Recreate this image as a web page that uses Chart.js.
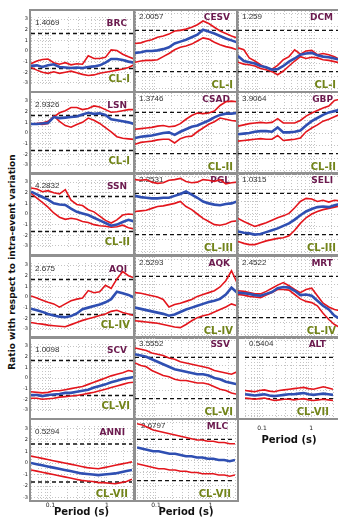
<!DOCTYPE html>
<html lang="en">
<head>
<meta charset="UTF-8">
<title>Ratio with respect to intra-event variation</title>
<script src="https://cdn.jsdelivr.net/npm/chart.js"></script>
<style>
  body { margin: 0; background: #fff; width: 338px; height: 517px; position: relative; overflow: hidden; }
  canvas { position: absolute; }
  .frame { position: absolute; border: 2px solid #909090; pointer-events: none; }
  .ylab {
    position: absolute; left: 12px; top: 262px;
    transform: translate(-50%, -50%) rotate(-90deg);
    white-space: nowrap; font: bold 9px 'DejaVu Sans', sans-serif; color: #111;
  }
</style>
</head>
<body>
<div class="ylab">Ratio with respect to intra-event variation</div>
<script>
const periods = [0.045, 0.057, 0.071, 0.089, 0.112, 0.141, 0.178, 0.224, 0.282, 0.355, 0.447, 0.562, 0.708, 0.891, 1.12, 1.41, 1.78, 2.24, 2.8];
const xTickLabels = ['0.1', '1'];
const yTicks = [-3, -2, -1, 0, 1, 2, 3];
const limits = [1.645, -1.645];

const stations = ['BRC', 'CESV', 'DCM', 'LSN', 'CSAD', 'GBP', 'SSN', 'PGL', 'SELI', 'AQI', 'AQK', 'MRT', 'SCV', 'SSV', 'ALT', 'ANNI', 'MLC'];
const values = ['1.4069', '2.0057', '1.259', '2.9326', '1.3746', '3.9064', '4.2832', '2.2531', '1.0315', '2.675', '2.5293', '2.4522', '1.0098', '3.5552', '0.5404', '0.5294', '2.6797'];
const classes = ['CL-I', 'CL-I', 'CL-I', 'CL-I', 'CL-II', 'CL-II', 'CL-II', 'CL-III', 'CL-III', 'CL-IV', 'CL-IV', 'CL-IV', 'CL-VI', 'CL-VI', 'CL-VII', 'CL-VII', 'CL-VII'];

// upper red / mean blue / lower red
const brcHi = [-1.2, -0.95, -0.8, -0.75, -1.1, -1.25, -1.1, -1.3, -1.2, -1.25, -0.45, -0.7, -0.7, -0.6, 0.1, 0.05, -0.3, -0.55, -0.75];
const brcMu = [-1.4, -1.35, -1.5, -1.35, -1.25, -1.5, -1.55, -1.6, -1.55, -1.6, -1.5, -1.45, -1.35, -1.1, -0.75, -0.75, -0.85, -1.0, -1.1];
const brcLo = [-1.55, -1.8, -2.0, -2.1, -1.95, -2.1, -2.0, -1.9, -2.05, -2.2, -2.3, -2.25, -2.1, -2.0, -1.9, -1.8, -1.7, -1.55, -1.3];

const cesvHi = [0.6, 0.65, 0.8, 0.9, 1.1, 1.2, 1.35, 1.6, 1.65, 1.75, 1.9, 2.1, 2.4, 2.2, 1.9, 1.6, 1.4, 1.2, 1.05];
const cesvMu = [-0.15, -0.1, 0.0, 0.0, 0.05, 0.15, 0.3, 0.6, 0.75, 0.9, 1.1, 1.3, 1.7, 1.55, 1.4, 1.2, 1.0, 0.85, 0.7];
const cesvLo = [-0.9, -0.8, -0.75, -0.75, -0.7, -0.45, -0.2, 0.1, 0.3, 0.4, 0.55, 0.8, 1.05, 0.95, 0.7, 0.5, 0.35, 0.25, 0.1];

const dcmHi = [0.25, 0.1, -0.55, -0.8, -1.1, -1.35, -1.45, -1.15, -0.7, -0.45, 0.1, -0.25, 0.0, 0.05, -0.3, -0.2, -0.3, -0.45, -0.7];
const dcmMu = [-0.4, -0.8, -0.9, -1.0, -1.2, -1.3, -1.5, -1.45, -1.2, -0.85, -0.6, -0.3, -0.2, -0.15, -0.35, -0.45, -0.5, -0.6, -0.7];
const dcmLo = [-0.9, -1.05, -1.1, -1.2, -1.4, -1.5, -1.65, -1.9, -1.6, -1.2, -0.8, -0.45, -0.6, -0.5, -0.55, -0.7, -0.75, -0.85, -0.95];

const lsnHi = [0.85, 0.9, 0.95, 1.1, 1.5, 1.9, 2.1, 2.4, 2.4, 2.2, 2.3, 2.55, 2.45, 2.2, 1.95, 2.0, 2.1, 2.2, 2.2];
const lsnMu = [0.85, 0.85, 0.9, 0.95, 1.5, 1.4, 1.45, 1.5, 1.55, 1.75, 1.9, 1.8, 1.85, 1.7, 1.3, 1.2, 1.1, 1.0, 0.85];
const lsnLo = [0.85, 0.85, 0.8, 0.9, 1.6, 1.1, 0.7, 0.55, 0.8, 1.0, 1.4, 1.2, 0.9, 0.5, 0.1, -0.35, -0.5, -0.55, -0.6];

const csadHi = [0.3, 0.35, 0.4, 0.45, 0.55, 0.6, 0.5, 0.55, 0.75, 1.1, 1.4, 1.6, 1.55, 1.6, 1.75, 2.2, 2.5, 2.55, 2.5];
const csadMu = [-0.4, -0.3, -0.25, -0.2, -0.1, 0.0, 0.05, -0.15, 0.1, 0.3, 0.5, 0.6, 0.8, 1.0, 1.25, 1.45, 1.55, 1.55, 1.6];
const csadLo = [-0.9, -0.75, -0.7, -0.65, -0.55, -0.5, -0.5, -0.8, -0.45, -0.3, -0.25, 0.1, 0.4, 0.7, 0.9, 1.2, 1.1, 1.0, 0.95];

const gbpHi = [0.55, 0.65, 0.75, 0.8, 0.85, 0.8, 0.85, 1.15, 0.8, 0.8, 0.8, 1.0, 1.35, 1.6, 1.8, 2.0, 2.15, 2.6, 2.7];
const gbpMu = [-0.1, -0.05, 0.0, 0.1, 0.15, 0.15, 0.1, 0.45, 0.05, 0.05, 0.1, 0.2, 0.6, 0.95, 1.2, 1.45, 1.65, 1.75, 1.85];
const gbpLo = [-0.65, -0.6, -0.55, -0.5, -0.45, -0.5, -0.5, -0.2, -0.6, -0.55, -0.5, -0.4, 0.1, 0.4, 0.65, 0.95, 1.1, 1.3, 1.5];

const ssnHi = [2.45, 2.35, 2.1, 2.2, 2.0, 1.9, 2.3, 1.3, 0.9, 0.8, 0.4, 0.2, -0.2, -0.6, -0.85, -0.55, -0.1, 0.0, -0.05];
const ssnMu = [2.1, 1.85, 1.6, 1.35, 1.0, 0.9, 0.85, 0.5, 0.2, 0.05, -0.1, -0.35, -0.6, -0.85, -1.1, -1.0, -0.75, -0.55, -0.7];
const ssnLo = [1.95, 1.5, 1.1, 0.65, 0.1, -0.3, -0.5, -0.4, -0.5, -0.7, -0.8, -1.0, -1.1, -1.15, -1.25, -1.2, -1.05, -1.3, -1.4];

const pglHi = [2.75, 2.7, 2.75, 2.55, 2.45, 2.5, 2.7, 2.75, 2.85, 2.6, 2.5, 2.55, 2.75, 2.7, 2.6, 2.75, 2.4, 2.5, 2.55];
const pglMu = [1.45, 1.35, 1.3, 1.25, 1.25, 1.3, 1.3, 1.45, 1.6, 1.8, 1.55, 1.3, 1.0, 0.85, 0.75, 0.7, 0.8, 0.85, 1.0];
const pglLo = [0.2, 0.25, 0.3, 0.45, 0.6, 0.65, 0.75, 0.85, 1.0, 0.6, 0.35, 0.0, -0.35, -0.6, -0.85, -0.9, -0.8, -0.6, -0.55];

const seliHi = [-0.35, -0.6, -0.8, -1.0, -0.85, -0.7, -0.5, -0.3, -0.15, 0.05, 0.5, 1.0, 1.25, 1.2, 1.0, 1.1, 0.95, 1.1, 1.05];
const seliMu = [-1.4, -1.5, -1.55, -1.65, -1.6, -1.45, -1.3, -1.15, -0.95, -0.75, -0.45, -0.1, 0.2, 0.4, 0.55, 0.6, 0.55, 0.7, 0.8];
const seliLo = [-2.2, -2.35, -2.45, -2.45, -2.3, -2.15, -2.05, -1.95, -1.9, -1.75, -1.3, -0.75, -0.3, 0.0, 0.2, 0.35, 0.45, 0.55, 0.65];

const aqiHi = [0.1, -0.1, -0.3, -0.5, -0.65, -0.95, -0.65, -0.35, -0.2, -0.1, 0.6, 0.4, 0.5, 1.1, 0.8, 1.7, 2.4, 2.0, 1.8];
const aqiMu = [-1.1, -1.25, -1.4, -1.6, -1.75, -1.85, -1.9, -1.8, -1.55, -1.15, -1.0, -0.85, -0.7, -0.5, -0.2, 0.5, 0.35, 0.2, -0.05];
const aqiLo = [-2.4, -2.5, -2.55, -2.65, -2.7, -2.75, -2.8, -2.6, -2.4, -2.2, -2.05, -1.9, -1.75, -1.6, -1.35, -1.25, -1.45, -1.6, -1.75];

const aqkHi = [0.35, 0.3, 0.2, 0.1, 0.0, -0.2, -0.8, -0.6, -0.5, -0.35, -0.2, 0.05, 0.2, 0.35, 0.5, 0.8, 1.3, 2.1, 1.15];
const aqkMu = [-0.85, -0.95, -1.05, -1.15, -1.25, -1.35, -1.5, -1.4, -1.2, -1.0, -0.85, -0.7, -0.55, -0.4, -0.3, -0.15, 0.2, 0.75, 0.35];
const aqkLo = [-1.9, -1.95, -2.0, -2.05, -2.1, -2.2, -2.3, -2.4, -2.45, -2.2, -1.9, -1.65, -1.5, -1.4, -1.2, -1.0, -0.8, -0.55, -0.7];

const mrtHi = [0.5, 0.45, 0.35, 0.25, 0.25, 0.45, 0.7, 0.95, 1.15, 0.9, 0.6, 0.35, 0.6, 0.7, 0.1, -0.5, -0.8, -1.0, -1.1];
const mrtMu = [0.35, 0.3, 0.25, 0.15, 0.1, 0.25, 0.4, 0.7, 0.8, 0.75, 0.5, 0.15, 0.2, 0.1, -0.3, -0.7, -1.0, -1.5, -1.75];
const mrtLo = [0.2, 0.15, 0.05, 0.0, -0.05, 0.15, 0.35, 0.6, 0.6, 0.55, 0.2, -0.15, -0.35, -0.45, -0.7, -1.3, -1.8, -2.2, -2.45];

const scvHi = [-1.3, -1.35, -1.4, -1.35, -1.2, -1.2, -1.1, -1.0, -0.9, -0.8, -0.6, -0.4, -0.2, 0.0, 0.2, 0.35, 0.5, 0.7, 0.6];
const scvMu = [-1.6, -1.6, -1.7, -1.6, -1.55, -1.5, -1.4, -1.4, -1.3, -1.2, -1.1, -0.9, -0.75, -0.6, -0.4, -0.25, -0.1, 0.0, 0.1];
const scvLo = [-1.9, -1.9, -2.0, -1.95, -1.9, -1.8, -1.75, -1.7, -1.65, -1.55, -1.45, -1.35, -1.2, -1.05, -0.9, -0.75, -0.6, -0.45, -0.4];

const ssvHi = [2.4, 2.3, 2.2, 2.0, 1.9, 1.8, 1.6, 1.5, 1.3, 1.2, 1.1, 1.0, 0.9, 0.8, 0.6, 0.5, 0.4, 0.3, 0.5];
const ssvMu = [1.9, 1.8, 1.7, 1.5, 1.3, 1.1, 0.9, 0.7, 0.6, 0.5, 0.4, 0.3, 0.3, 0.2, 0.0, -0.1, -0.3, -0.4, -0.5];
const ssvLo = [1.2, 1.0, 0.9, 0.6, 0.4, 0.2, 0.1, -0.1, -0.2, -0.2, -0.3, -0.4, -0.4, -0.5, -0.7, -0.9, -1.0, -1.2, -1.3];

const altHi = [-1.0, -1.05, -1.1, -1.0, -0.95, -1.05, -1.1, -1.0, -0.95, -0.9, -0.85, -0.8, -0.75, -0.85, -0.9, -0.8, -0.7, -0.8, -0.9];
const altMu = [-1.3, -1.35, -1.4, -1.35, -1.3, -1.4, -1.45, -1.4, -1.35, -1.3, -1.3, -1.25, -1.2, -1.3, -1.35, -1.3, -1.25, -1.3, -1.35];
const altLo = [-1.6, -1.65, -1.7, -1.65, -1.6, -1.7, -1.8, -1.75, -1.7, -1.7, -1.75, -1.7, -1.65, -1.75, -1.8, -1.75, -1.7, -1.75, -1.8];

const anniHi = [0.6, 0.5, 0.4, 0.3, 0.2, 0.1, 0.0, -0.1, -0.2, -0.3, -0.4, -0.45, -0.5, -0.4, -0.3, -0.2, -0.1, 0.0, 0.1];
const anniMu = [0.0, -0.1, -0.2, -0.3, -0.4, -0.5, -0.6, -0.7, -0.8, -0.9, -0.95, -1.0, -1.05, -1.0, -0.95, -0.9, -0.8, -0.7, -0.6];
const anniLo = [-0.6, -0.7, -0.8, -0.9, -1.0, -1.1, -1.2, -1.3, -1.4, -1.5, -1.55, -1.6, -1.7, -1.7, -1.75, -1.8, -1.7, -1.6, -1.4];

const mlcHi = [2.9, 2.8, 2.6, 2.4, 2.3, 2.2, 2.1, 2.0, 1.9, 1.8, 1.7, 1.6, 1.6, 1.5, 1.5, 1.4, 1.4, 1.3, 1.3];
const mlcMu = [1.0, 0.9, 0.8, 0.7, 0.7, 0.6, 0.5, 0.5, 0.4, 0.3, 0.3, 0.2, 0.2, 0.1, 0.1, 0.0, 0.0, -0.1, 0.0];
const mlcLo = [-0.3, -0.4, -0.5, -0.6, -0.7, -0.7, -0.8, -0.8, -0.9, -0.9, -1.0, -1.0, -1.1, -1.1, -1.1, -1.2, -1.2, -1.3, -1.2];

const series = [
  [brcHi, brcMu, brcLo], [cesvHi, cesvMu, cesvLo], [dcmHi, dcmMu, dcmLo],
  [lsnHi, lsnMu, lsnLo], [csadHi, csadMu, csadLo], [gbpHi, gbpMu, gbpLo],
  [ssnHi, ssnMu, ssnLo], [pglHi, pglMu, pglLo], [seliHi, seliMu, seliLo],
  [aqiHi, aqiMu, aqiLo], [aqkHi, aqkMu, aqkLo], [mrtHi, mrtMu, mrtLo],
  [scvHi, scvMu, scvLo], [ssvHi, ssvMu, ssvLo], [altHi, altMu, altLo],
  [anniHi, anniMu, anniLo], [mlcHi, mlcMu, mlcLo]
];

// layout of the small panels
const rowTop = [11, 93, 174, 257, 338, 420];
const colLeft = [31, 135, 238];
const colWidth = [103, 102, 102];
const plotH = 80;
const yAxisW = 12;
// panels that carry a period axis underneath
const bottomAxis = { 14: { h: 28, pad: 7 }, 15: { h: 18, pad: 2 }, 16: { h: 18, pad: 2 } };

const red = '#e3161d';
const blue = '#2f4fb2';

Chart.defaults.font.family = "'DejaVu Sans', sans-serif";
Chart.defaults.animation = false;

// value, station name and class written inside each panel
const panelText = {
  id: 'panelText',
  beforeDatasetsDraw(chart, args, opts) {
    const { ctx, chartArea: a } = chart;
    ctx.save();
    ctx.textBaseline = 'top';
    ctx.textAlign = 'left';
    ctx.font = "8px 'Liberation Sans', sans-serif";
    ctx.fillStyle = '#333';
    ctx.fillText(opts.value, a.left + 4, a.top + 2);
    ctx.textAlign = 'right';
    ctx.font = "bold 9px 'DejaVu Sans', sans-serif";
    ctx.fillStyle = '#6b1a4e';
    ctx.fillText(opts.station, a.right - 7, a.top + 2);
    ctx.textBaseline = 'bottom';
    ctx.font = "bold 10px 'DejaVu Sans', sans-serif";
    ctx.fillStyle = '#72841a';
    ctx.fillText(opts.cls, a.right - 4, a.bottom - 1);
    ctx.restore();
  }
};

const xMin = periods[0], xMax = periods[periods.length - 1];
const toPoints = vals => periods.map((p, k) => ({ x: p, y: vals[k] }));

series.forEach((s, i) => {
  const row = Math.floor(i / 3), col = i % 3;
  const leftAxis = col === 0;
  const xAxis = bottomAxis[i];
  const w = colWidth[col] + (leftAxis ? yAxisW : 0);
  const h = plotH + (xAxis ? xAxis.h : 0);

  const cv = document.createElement('canvas');
  cv.width = w;
  cv.height = h;
  cv.style.left = (colLeft[col] - (leftAxis ? yAxisW : 0)) + 'px';
  cv.style.top = rowTop[row] + 'px';
  document.body.appendChild(cv);

  const fr = document.createElement('div');
  fr.className = 'frame';
  fr.style.left = (colLeft[col] - 2) + 'px';
  fr.style.top = (rowTop[row] - 2) + 'px';
  fr.style.width = colWidth[col] + 'px';
  fr.style.height = plotH + 'px';
  document.body.appendChild(fr);

  const line = { pointRadius: 0, tension: 0, fill: false };
  const datasets = [
    { ...line, data: toPoints(s[1]), borderColor: blue, borderWidth: 2.6, order: 0 },
    { ...line, data: toPoints(s[0]), borderColor: red, borderWidth: 1.6, order: 1 },
    { ...line, data: toPoints(s[2]), borderColor: red, borderWidth: 1.6, order: 1 }
  ];
  limits.forEach(v => datasets.push({
    ...line, data: [{ x: xMin, y: v }, { x: xMax, y: v }],
    borderColor: '#111', borderWidth: 1.3, borderDash: [4, 3], order: 2
  }));

  new Chart(cv, {
    type: 'line',
    data: { datasets },
    plugins: [panelText],
    options: {
      responsive: false,
      layout: { padding: 0 },
      plugins: {
        legend: { display: false },
        tooltip: { enabled: false },
        panelText: { value: values[i], station: stations[i], cls: classes[i] }
      },
      scales: {
        x: {
          type: 'logarithmic',
          min: xMin,
          max: xMax,
          grid: { color: '#c4c4c4', drawTicks: false },
          border: { display: false, dash: [1, 2] },
          afterBuildTicks: sc => {
            // drop the 1.5 x 10^n ticks that v4 adds
            sc.ticks = sc.ticks.filter(t => {
              const m = t.value / Math.pow(10, Math.floor(Math.log10(t.value) + 1e-9));
              return Math.abs(m - 1.5) > 1e-6;
            });
          },
          ticks: {
            display: !!xAxis,
            autoSkip: false,
            maxRotation: 0,
            padding: xAxis ? xAxis.pad : 0,
            color: '#222',
            font: { size: 6 },
            callback: v => {
              const lab = xTickLabels.find(l => Math.abs(Number(l) - v) < 1e-9);
              return lab || '';
            }
          },
          title: {
            display: !!xAxis,
            text: 'Period (s)',
            color: '#111',
            padding: 0,
            font: { size: 10, weight: 'bold' }
          },
          afterFit: sc => { sc.height = xAxis ? xAxis.h : 0; }
        },
        y: {
          min: -3.2,
          max: 3.2,
          grid: { color: '#c4c4c4', drawTicks: false },
          border: { display: false, dash: [1, 2] },
          afterBuildTicks: sc => { sc.ticks = yTicks.map(v => ({ value: v })); },
          ticks: {
            display: leftAxis,
            padding: 3,
            color: '#222',
            font: { size: 5 }
          },
          afterFit: sc => { sc.width = leftAxis ? yAxisW : 0; }
        }
      }
    }
  });
});
</script>
</body>
</html>
